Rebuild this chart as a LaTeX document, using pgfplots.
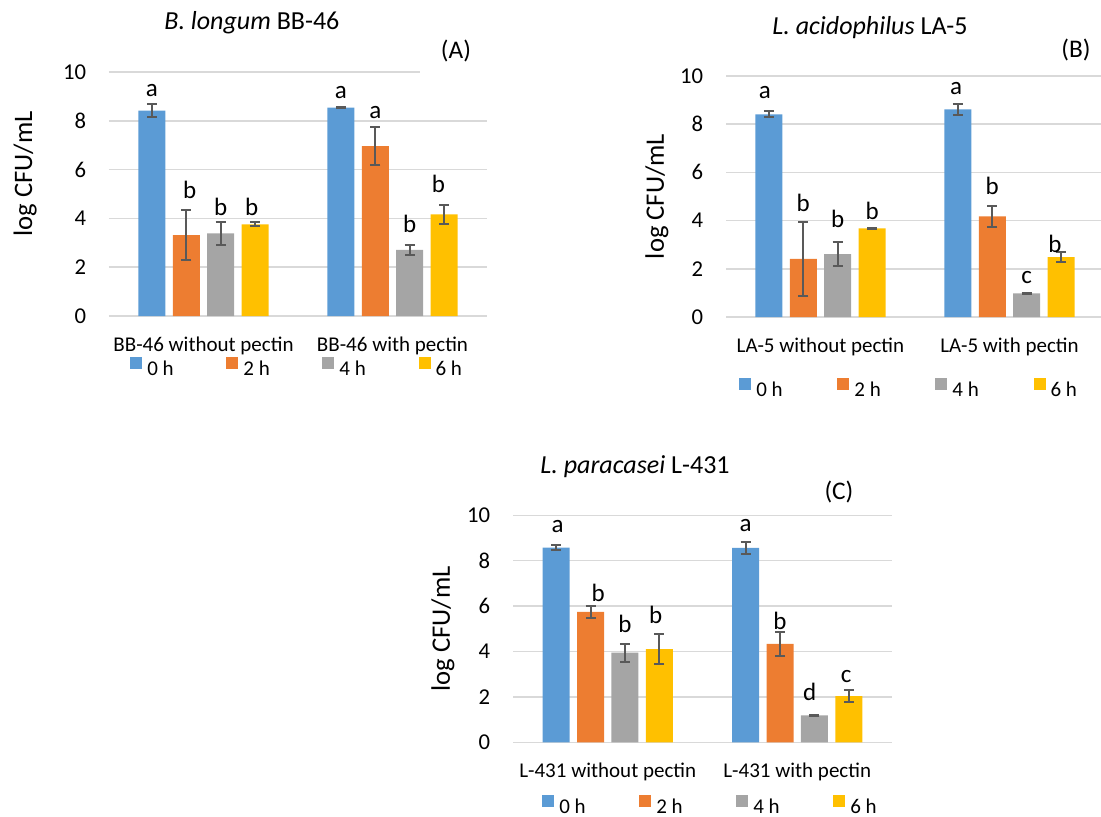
\documentclass[border=0pt]{standalone}
\usepackage{pgfplots}
\pgfplotsset{compat=1.18}
\usepackage{fontspec}
\setmainfont{Carlito}
\definecolor{c0}{HTML}{5B9BD5}
\definecolor{c2}{HTML}{ED7D31}
\definecolor{c4}{HTML}{A5A5A5}
\definecolor{c6}{HTML}{FFC000}
\definecolor{gridc}{HTML}{D9D9D9}
\definecolor{errc}{HTML}{595959}
\pgfplotsset{
  panel/.style={
    scale only axis, width=283.5pt, anchor=south west, clip=false,
    xmin=-0.5, xmax=1.5, ymin=0, ymax=10,
    ytick={0,2,4,6,8,10}, xtick={0,1},
    axis line style={draw=none},
    major tick length=0pt,
    ymajorgrids, grid style={gridc, line width=1.1pt},
    /pgf/number format/assume math mode=true,
    yticklabel style={anchor=east, inner sep=0pt, xshift=-17pt, font=\fontsize{17}{20}\selectfont},
    xticklabel style={anchor=base, inner sep=0pt, yshift=-26.5pt, font=\fontsize{15.75}{19}\selectfont},
    legend columns=4,
    legend style={draw=none, fill=none, inner sep=0pt, anchor=west,
      font=\fontsize{15.75}{19}\selectfont, nodes={inner sep=0pt},
      /tikz/every odd column/.append style={column sep=3.75pt}},
  },
  bar/.style 2 args={ybar, bar width=20.25pt, bar shift=#1, fill=#2, draw=none,
    legend image code/.code={\fill[#2] (0pt,0pt) rectangle (9pt,9pt);},
    error bars/.cd, y dir=both, y explicit,
    error bar style={errc, line width=1.5pt, xshift=#1},
    error mark options={errc, line width=1.5pt, rotate=90, mark size=3.75pt}},
  letters/.style={draw=none, mark=none,
    nodes near coords, point meta=explicit symbolic,
    every node near coord/.append style={inner sep=0pt, text=black, font=\fontsize{18.75}{22}\selectfont}},
}
\begin{document}
\begin{tikzpicture}
\useasboundingbox (0pt,0pt) rectangle (825.75pt,-612.75pt);
% ---------------- (A)
\begin{axis}[panel, at={(81.75pt,-237pt)}, height=183pt,
  xticklabels={BB-46 without pectin, BB-46 with pectin},
  legend style={at={(axis description cs:0.0556,-0.209)},
    /tikz/every even column/.append style={column sep=39.5pt}}]
\addplot[bar={-38.7pt}{c0}] coordinates {(0,8.42) +- (0,0.28) (1,8.54) +- (0,0.03)};
\addplot[bar={-12.9pt}{c2}] coordinates {(0,3.31) +- (0,1.03) (1,6.96) +- (0,0.79)};
\addplot[bar={12.9pt}{c4}] coordinates {(0,3.39) +- (0,0.48) (1,2.71) +- (0,0.20)};
\addplot[bar={38.7pt}{c6}] coordinates {(0,3.76) +- (0,0.09) (1,4.17) +- (0,0.39)};
\legend{0 h, 2 h, 4 h, 6 h}
\addplot[letters] coordinates {(-0.273,8.98) [a] (0.727,8.91) [a] (-0.073,4.78) [b] (0.909,8.07) [a]
  (0.091,4.10) [b] (1.091,3.39) [b] (0.255,4.10) [b] (1.243,5.05) [b]};
\node[font=\fontsize{19.5}{23}\selectfont] at (axis description cs:0.378,1.201) {\textit{B. longum} BB-46};
\node[font=\fontsize{19}{23}\selectfont, fill=white, inner xsep=16pt, inner ysep=8pt] at (axis description cs:0.918,1.086) {(A)};
\node[rotate=90, font=\fontsize{20}{24}\selectfont] at (axis description cs:-0.222,0.582) {log CFU/mL};
\end{axis}
% ---------------- (B)
\begin{axis}[panel, at={(544.5pt,-237.75pt)}, height=180.75pt,
  xticklabels={LA-5 without pectin, LA-5 with pectin},
  legend style={at={(axis description cs:0.0344,-0.295)},
    /tikz/every even column/.append style={column sep=41pt}}]
\addplot[bar={-38.7pt}{c0}] coordinates {(0,8.41) +- (0,0.12) (1,8.62) +- (0,0.22)};
\addplot[bar={-12.9pt}{c2}] coordinates {(0,2.41) +- (0,1.55) (1,4.18) +- (0,0.44)};
\addplot[bar={12.9pt}{c4}] coordinates {(0,2.61) +- (0,0.50) (1,0.98) +- (0,0.03)};
\addplot[bar={38.7pt}{c6}] coordinates {(0,3.68) +- (0,0.03) (1,2.48) +- (0,0.20)};
\legend{0 h, 2 h, 4 h, 6 h}
\addplot[letters] coordinates {(-0.295,9.05) [a] (0.717,9.21) [a] (-0.091,4.36) [b] (0.909,5.06) [b]
  (0.091,3.71) [b] (1.091,1.36) [c] (0.273,4.02) [b] (1.24,2.64) [b]};
\node[font=\fontsize{19.5}{23}\selectfont] at (axis description cs:0.381,1.199) {\textit{L. acidophilus} LA-5};
\node[font=\fontsize{19}{23}\selectfont] at (axis description cs:0.926,1.108) {(B)};
\node[rotate=90, font=\fontsize{20}{24}\selectfont] at (axis description cs:-0.183,0.5) {log CFU/mL};
\end{axis}
% ---------------- (C)
\begin{axis}[panel, at={(384.75pt,-556.7pt)}, width=284.25pt, height=170.25pt,
  xticklabels={L-431 without pectin, L-431 with pectin},
  legend style={at={(axis description cs:0.0765,-0.278)},
    /tikz/every even column/.append style={column sep=40.2pt}}]
\addplot[bar={-38.7pt}{c0}] coordinates {(0,8.58) +- (0,0.10) (1,8.56) +- (0,0.26)};
\addplot[bar={-12.9pt}{c2}] coordinates {(0,5.74) +- (0,0.26) (1,4.33) +- (0,0.51)};
\addplot[bar={12.9pt}{c4}] coordinates {(0,3.95) +- (0,0.40) (1,1.19) +- (0,0.03)};
\addplot[bar={38.7pt}{c6}] coordinates {(0,4.10) +- (0,0.67) (1,2.03) +- (0,0.26)};
\legend{0 h, 2 h, 4 h, 6 h}
\addplot[letters] coordinates {(-0.265,9.21) [a] (0.727,9.25) [a] (-0.051,6.20) [b] (0.909,4.95) [b]
  (0.091,4.83) [b] (1.065,1.82) [d] (0.253,5.20) [b] (1.258,2.60) [c]};
\node[font=\fontsize{19.5}{23}\selectfont] at (axis description cs:0.322,1.213) {\textit{L. paracasei} L-431};
\node[font=\fontsize{19}{23}\selectfont] at (axis description cs:0.860,1.103) {(C)};
\node[rotate=90, font=\fontsize{20}{24}\selectfont] at (axis description cs:-0.185,0.5) {log CFU/mL};
\end{axis}
\end{tikzpicture}
\end{document}
